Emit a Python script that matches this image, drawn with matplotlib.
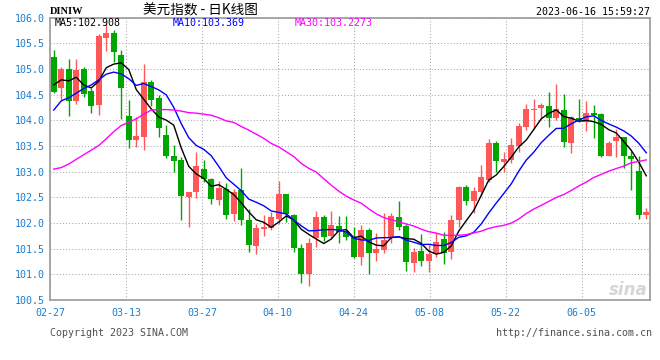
#!/usr/bin/env python3
import numpy as np
import pandas as pd
import matplotlib
matplotlib.use('Agg')
import matplotlib.pyplot as plt

# daily candles, 2023-02-27 .. 2023-06-16
opens = [105.23, 104.64, 105.00, 104.38, 105.00, 104.57, 104.30, 105.61, 105.70, 105.27,
         104.09, 103.62, 103.68, 104.75, 104.44, 103.71, 103.31, 103.23, 102.51, 102.60,
         103.05, 102.86, 102.44, 102.66, 102.18, 102.64, 102.06, 101.56, 101.88, 101.90,
         102.08, 102.57, 102.16, 101.52, 101.01, 101.70, 102.12, 101.75, 101.94, 101.84,
         101.73, 101.34, 101.86, 101.42, 101.47, 101.73, 102.12, 101.95, 101.23, 101.46,
         101.26, 101.39, 101.69, 101.43, 102.06, 102.71, 102.42, 102.61, 102.84, 103.55,
         103.18, 103.23, 103.51, 103.88, 104.20, 104.25, 104.28, 104.05, 104.21, 103.55,
         104.04, 103.97, 104.14, 104.12, 103.31, 103.59, 103.67, 103.31, 103.02, 102.16]
highs = [105.37, 105.03, 105.20, 105.20, 105.03, 104.64, 105.68, 105.89, 105.76, 105.37,
         104.40, 104.07, 105.10, 104.79, 104.49, 103.91, 103.52, 103.29, 102.61, 103.39,
         103.23, 102.87, 102.81, 102.77, 102.66, 103.07, 102.27, 101.99, 102.16, 102.22,
         102.82, 102.57, 102.18, 101.60, 101.70, 102.23, 102.16, 102.23, 102.14, 102.14,
         101.92, 101.96, 101.90, 101.80, 102.20, 102.19, 102.42, 101.99, 101.51, 101.79,
         101.57, 101.80, 101.82, 102.16, 102.73, 102.75, 102.70, 103.13, 103.64, 103.60,
         103.38, 103.65, 103.94, 104.32, 104.42, 104.33, 104.55, 104.71, 104.51, 104.08,
         104.42, 104.38, 104.30, 104.14, 103.60, 103.83, 103.68, 103.41, 103.31, 102.30]
lows = [104.53, 104.40, 104.09, 104.31, 104.46, 104.15, 104.10, 105.35, 105.14, 104.03,
        103.47, 103.49, 103.43, 104.27, 103.68, 103.27, 103.00, 102.05, 101.92, 102.49,
        102.80, 102.37, 102.35, 102.08, 102.04, 101.96, 101.44, 101.40, 101.75, 101.86,
        101.99, 102.01, 101.44, 100.84, 100.78, 101.53, 101.64, 101.69, 101.62, 101.67,
        101.31, 101.18, 101.01, 101.26, 101.42, 101.62, 101.86, 101.07, 101.04, 101.17,
        101.04, 101.34, 101.21, 101.30, 101.93, 102.36, 102.20, 102.53, 102.79, 102.99,
        103.00, 103.16, 103.39, 103.81, 103.84, 104.03, 103.88, 104.01, 103.49, 103.37,
        103.97, 103.79, 103.65, 103.29, 103.30, 103.28, 103.07, 102.65, 102.08, 102.08]
closes = [104.55, 105.00, 104.38, 104.99, 104.52, 104.27, 105.65, 105.70, 105.34, 104.64,
          103.62, 103.70, 104.75, 104.40, 103.86, 103.31, 103.21, 102.53, 102.61, 103.12,
          102.86, 102.46, 102.68, 102.16, 102.61, 102.06, 101.57, 101.91, 101.92, 102.12,
          102.57, 102.17, 101.52, 101.01, 101.62, 102.12, 101.73, 101.96, 101.82, 101.73,
          101.34, 101.86, 101.42, 101.49, 101.67, 102.14, 101.93, 101.25, 101.43, 101.26,
          101.40, 101.63, 101.42, 102.06, 102.70, 102.42, 102.62, 102.89, 103.55, 103.20,
          103.25, 103.52, 103.89, 104.22, 104.23, 104.29, 104.05, 104.23, 103.57, 104.07,
          103.99, 104.14, 104.10, 103.31, 103.55, 103.67, 103.31, 103.24, 102.16, 102.22]

# moving averages before enough candles are in view
ma5_head = [104.69, 104.79, 104.77, 104.84]
ma10_head = [104.20, 104.38, 104.44, 104.53, 104.62, 104.69, 104.79, 104.90, 104.94]
ma30_head = [103.05, 103.08, 103.15, 103.24, 103.33, 103.42, 103.51, 103.64, 103.78, 103.90,
             103.96, 104.03, 104.12, 104.20, 104.21, 104.21, 104.20, 104.18, 104.15, 104.14,
             104.12, 104.10, 104.05, 103.99, 103.96, 103.88, 103.81, 103.73, 103.65]

tick_idx = [0, 10, 20, 30, 40, 50, 60, 70]
tick_labels = ['02-27', '03-13', '03-27', '04-10', '04-24', '05-08', '05-22', '06-05']
y_ticks = [100.5, 101.0, 101.5, 102.0, 102.5, 103.0, 103.5, 104.0, 104.5, 105.0, 105.5, 106.0]

RED = '#ff5757'
GREEN = '#00a600'
BLUE_TXT = '#1a7dcf'
MONO = 'DejaVu Sans Mono'


def ma(head, n):
    s = pd.Series(closes).rolling(n).mean().to_numpy()
    return np.concatenate([head, s[len(head):]])


def main():
    W, H = 660, 360
    fig = plt.figure(figsize=(W / 100, H / 100), dpi=100)
    fig.patch.set_facecolor('white')
    ax = fig.add_axes([50 / W, 60 / H, 600 / W, 282.3 / H])

    o = np.array(opens); c = np.array(closes)
    hi = np.array(highs); lo = np.array(lows)
    x = np.arange(len(o))
    up = c >= o
    col = np.where(up, RED, GREEN)

    ax.vlines(x, lo, hi, colors=col, linewidth=1, zorder=3)
    body_lo = np.minimum(o, c)
    body_h = np.maximum(np.abs(c - o), 0.015)
    ax.bar(x, body_h, bottom=body_lo, width=0.8, color=col, edgecolor='none', zorder=4)

    ax.plot(x, ma(ma5_head, 5), color='black', lw=1, zorder=5)
    ax.plot(x, ma(ma10_head, 10), color='#0000ff', lw=1, zorder=5)
    ax.plot(x, ma(ma30_head, 30), color='#ff00ff', lw=1, zorder=5)

    ax.set_xlim(-0.5, len(o) - 0.5)
    ax.set_ylim(100.5, 106.0)
    # grid columns sit on the left edge of the labelled day
    ax.set_xticks([i - 0.5 + i / 79 for i in tick_idx])
    ax.set_xticklabels(tick_labels)
    ax.set_yticks(y_ticks)
    ax.set_yticklabels([f'{v:.1f}' for v in y_ticks])
    ax.tick_params(length=0, colors=BLUE_TXT, labelsize=7.2)
    ax.tick_params(axis='x', pad=6)
    ax.tick_params(axis='y', pad=3.5)
    for lab in ax.get_xticklabels() + ax.get_yticklabels():
        lab.set_family(MONO)
    ax.grid(True, color='#a8a8a8', lw=0.75, linestyle=(0, (1, 2)), zorder=0)
    for sp in ax.spines.values():
        sp.set_color('#a0a0a0'); sp.set_linewidth(1.3)

    def ftext(px, py, s, **kw):
        fig.text(px / W, 1 - py / H, s, **kw)

    ftext(50, 11, 'DINIW', ha='left', va='center', family='Liberation Serif',
          weight='bold', size=7.5)
    ftext(200, 10, '美元指数 - 日K线图', ha='center', va='center',
          family=['Noto Sans CJK SC', 'DejaVu Sans'], size=9.8)
    ftext(650, 12, '2023-06-16 15:59:27', ha='right', va='center', family=MONO, size=7.2)
    ftext(55, 23, 'MA5:102.908', ha='left', va='center', family=MONO, size=7.2, color='black')
    ftext(173, 23, 'MA10:103.369', ha='left', va='center', family=MONO, size=7.2, color='#0000ff')
    ftext(295, 23, 'MA30:103.2273', ha='left', va='center', family=MONO, size=7.2, color='#ff00ff')
    ftext(50, 333, 'Copyright 2023 SINA.COM', ha='left', va='center', family=MONO,
          size=7.2, color='#505050')
    ftext(652, 333, 'http://finance.sina.com.cn', ha='right', va='center', family=MONO,
          size=7.2, color='#505050')
    ftext(648, 290, 'sina', ha='right', va='center', size=12, style='italic',
          weight='bold', color='#d6d6d6')

    fig.savefig('out.png', dpi=100)
    plt.close(fig)


if __name__ == '__main__':
    main()
